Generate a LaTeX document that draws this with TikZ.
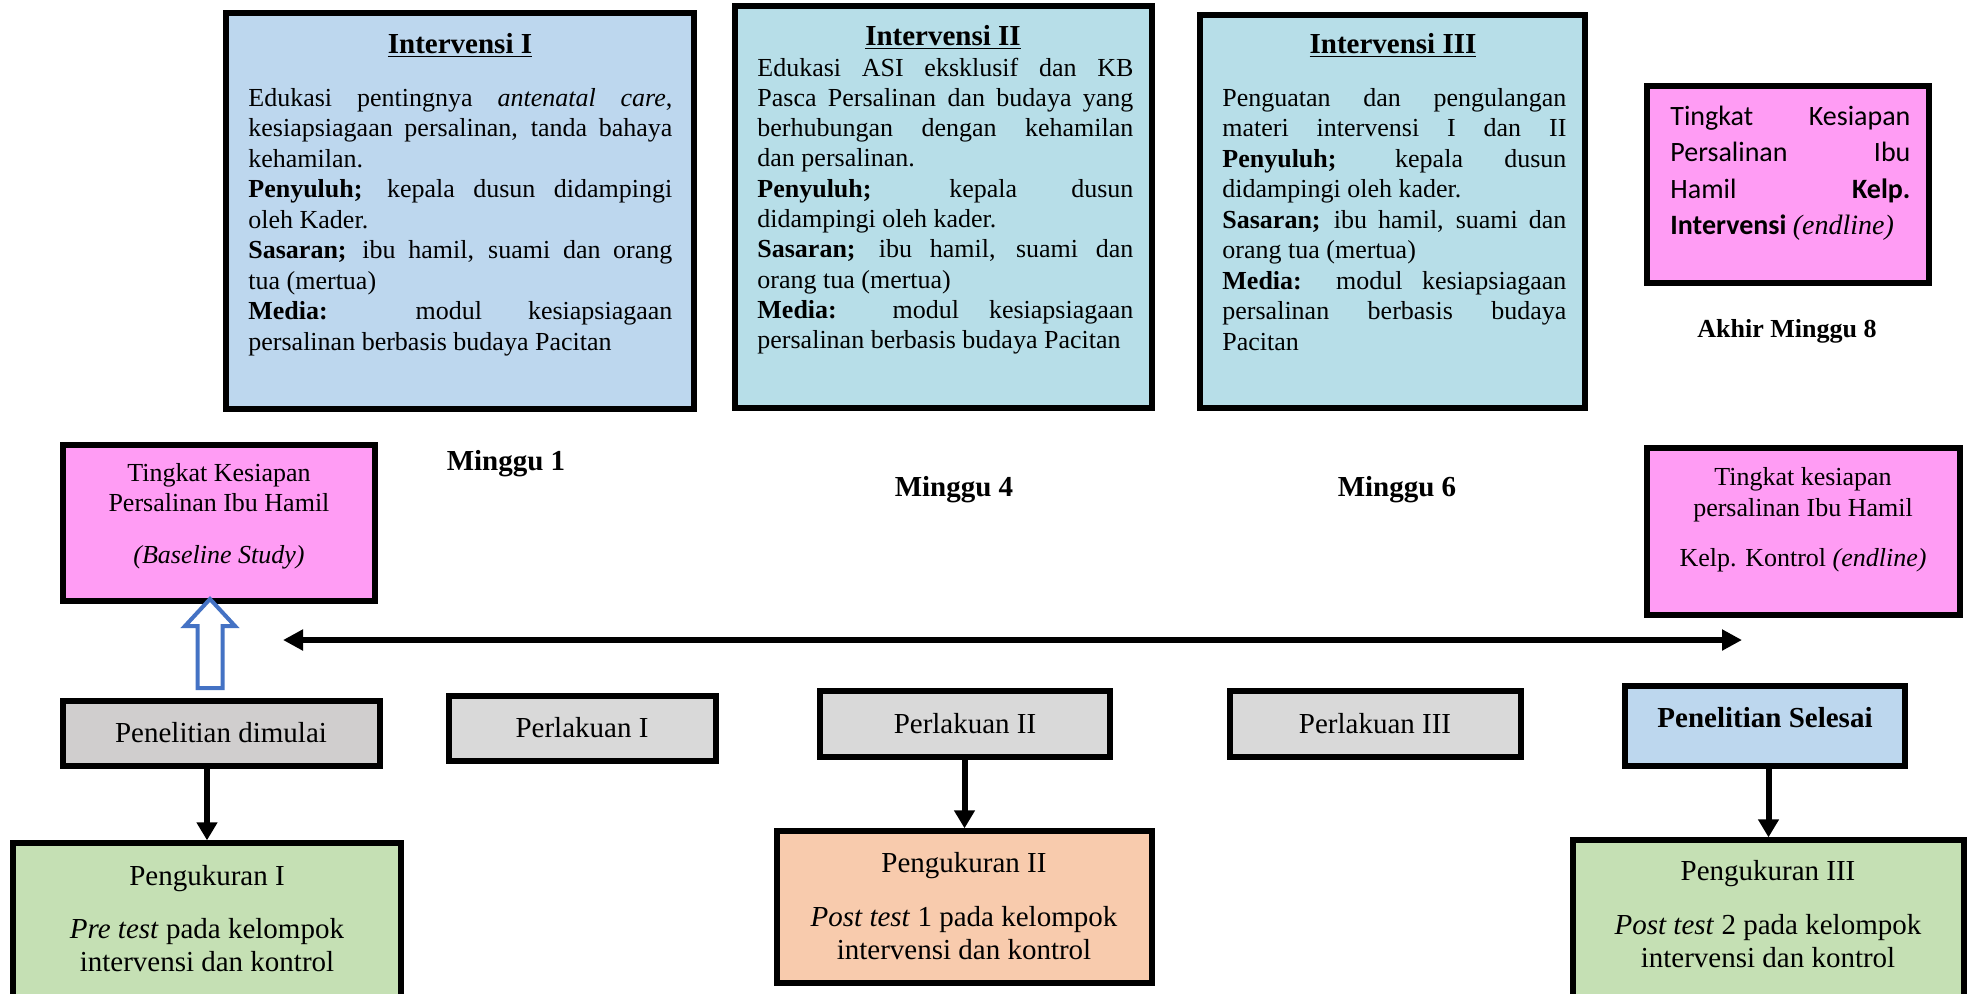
\documentclass[tikz,border=0pt]{standalone}
\usepackage{fontspec}
\setmainfont{Liberation Serif}
\newfontfamily\calibrifont{Carlito}
\usetikzlibrary{arrows.meta,fit}

\definecolor{intblue}{HTML}{BDD7EE}
\definecolor{intaqua}{HTML}{B7DEE8}
\definecolor{pinkbox}{HTML}{FF9CF4}
\definecolor{startgray}{HTML}{D0CECE}
\definecolor{treatgray}{HTML}{D9D9D9}
\definecolor{endblue}{HTML}{BDD7EE}
\definecolor{measgreen}{HTML}{C5E0B4}
\definecolor{measpeach}{HTML}{F8CBAD}
\definecolor{hollowblue}{HTML}{4472C4}

\newcommand\txtbody{\fontsize{13}{15.25}\selectfont}
\newcommand\txttitle{\fontsize{14.5}{17}\selectfont\bfseries}
\newcommand\txtbox{\fontsize{14.5}{17}\selectfont}
\newcommand\justpar{\parindent0pt\parskip0pt\hyphenpenalty10000\exhyphenpenalty10000\tolerance9999\relax}

\tikzset{
  frame/.style={draw=black, line width=2.7pt, inner sep=0pt},
  lbl/.style={inner sep=0pt, anchor=base},
  bodytxt/.style={inner sep=0pt, anchor=base west},
  dnarrow/.style={line width=3pt, -{Triangle[length=9pt,width=10pt]}},
  timeline/.style={line width=3.4pt, {Triangle[length=10pt,width=10pt]}-{Triangle[length=10pt,width=10pt]}},
}

\begin{document}
\begin{tikzpicture}[x=0.5pt,y=-0.5pt]
\clip (0,0) rectangle (1968,993);
\fill[white] (0,0) rectangle (1968,993);

% ---------- intervention boxes ----------
\node[frame, fill=intblue, fit={(226,13) (694,409)}] (int1) {};
\node[lbl] (int1h) at (460,53) {\txttitle\underline{Intervensi I}};
\node[bodytxt] (int1t) at (248,106) {\parbox[t]{212pt}{\txtbody\justpar
Edukasi pentingnya \textit{antenatal care},\linebreak
kesiapsiagaan persalinan, tanda bahaya\linebreak
kehamilan.\par
\textbf{Penyuluh;} kepala dusun didampingi\linebreak
oleh Kader.\par
\textbf{Sasaran;} ibu hamil, suami dan orang\linebreak
tua (mertua)\par
\textbf{Media:} modul kesiapsiagaan\linebreak
persalinan berbasis budaya Pacitan}};

\node[frame, fill=intaqua, fit={(735,6) (1152,408)}] (int2) {};
\node[lbl] (int2h) at (943,45) {\txttitle\underline{Intervensi II}};
\node[bodytxt] (int2t) at (757,76) {\parbox[t]{188pt}{\fontsize{13}{15.15}\selectfont\justpar
Edukasi ASI eksklusif dan KB\linebreak
Pasca Persalinan dan budaya yang\linebreak
berhubungan dengan kehamilan\linebreak
dan persalinan.\par
\textbf{Penyuluh;} kepala dusun\linebreak
didampingi oleh kader.\par
\textbf{Sasaran;} ibu hamil, suami dan\linebreak
orang tua (mertua)\par
\textbf{Media:} modul kesiapsiagaan\linebreak
persalinan berbasis budaya Pacitan}};

\node[frame, fill=intaqua, fit={(1200,15) (1585,408)}] (int3) {};
\node[lbl] (int3h) at (1393,53) {\txttitle\underline{Intervensi III}};
\node[bodytxt] (int3t) at (1222,106) {\parbox[t]{172pt}{\txtbody\justpar
Penguatan dan pengulangan\linebreak
materi intervensi I dan II\linebreak
\textbf{Penyuluh;} kepala dusun\linebreak
didampingi oleh kader.\par
\textbf{Sasaran;} ibu hamil, suami dan\linebreak
orang tua (mertua)\par
\textbf{Media:} modul kesiapsiagaan\linebreak
persalinan berbasis budaya\linebreak
Pacitan}};

% ---------- endline, intervention group ----------
\node[frame, fill=pinkbox, fit={(1647,86) (1929,283)}] (endint) {};
\node[bodytxt] (endintt) at (1670,125) {\parbox[t]{120pt}{\calibrifont\fontsize{14}{18.3}\selectfont\justpar
Tingkat Kesiapan\linebreak
Persalinan Ibu\linebreak
Hamil \textbf{Kelp.}\linebreak
\textbf{Intervensi} {\rmfamily\itshape (endline)}}};
\node[lbl] (wk8) at (1787,337) {\fontsize{13}{15}\selectfont\bfseries Akhir Minggu 8};

% ---------- week labels ----------
\node[lbl] (wk1) at (506,470) {\txttitle Minggu 1};
\node[lbl] (wk4) at (954,496) {\txttitle Minggu 4};
\node[lbl] (wk6) at (1397,496) {\txttitle Minggu 6};

% ---------- baseline and control endline ----------
\node[frame, fill=pinkbox, fit={(63,445) (375,601)}] (base) {};
\node[lbl] (baset) at (219,481) {\parbox[t]{150pt}{\centering\fontsize{13}{15}\selectfont
Tingkat Kesiapan\\
Persalinan Ibu Hamil\\[11pt]
\textit{(Baseline Study)}}};

\node[frame, fill=pinkbox, fit={(1647,448) (1960,615)}] (endkon) {};
\node[lbl] (endkont) at (1803,485) {\parbox[t]{155pt}{\centering\fontsize{13}{15.5}\selectfont
Tingkat kesiapan\\
persalinan Ibu Hamil\\[9.5pt]
Kelp. Kontrol \textit{(endline)}}};

% ---------- time axis ----------
\coordinate (tl) at (283,640);
\coordinate (tr) at (1742,640);
\draw[timeline] (tl) -- (tr);

% hollow block arrow pointing up to the baseline box
\draw[hollowblue, line width=2pt, fill=white, line join=miter]
  (197.5,688) -- (197.5,626) -- (185,626) -- (210,599) -- (235,626)
  -- (222.5,626) -- (222.5,688) -- cycle;

% ---------- stage boxes ----------
\node[frame, fill=startgray, fit={(63,701) (380,766)}] (pd) {};
\node[lbl] (pdt) at (221,742) {\txtbox Penelitian dimulai};

\node[frame, fill=treatgray, fit={(449,696) (716,761)}] (p1) {};
\node[lbl] (p1t) at (582,737) {\txtbox Perlakuan I};

\node[frame, fill=treatgray, fit={(820,691) (1110,757)}] (p2) {};
\node[lbl] (p2t) at (965,733) {\txtbox Perlakuan II};

\node[frame, fill=treatgray, fit={(1230,691) (1521,757)}] (p3) {};
\node[lbl] (p3t) at (1375,733) {\txtbox Perlakuan III};

\node[frame, fill=endblue, fit={(1625,686) (1905,766)}] (fin) {};
\node[lbl] (fint) at (1765,727) {\txtbox\bfseries Penelitian Selesai};

% ---------- measurement boxes ----------
\node[frame, fill=measgreen, fit={(13,843) (401,998)}] (m1) {};
\node[lbl] (m1t) at (207,885) {\parbox[t]{190pt}{\centering\fontsize{14.5}{16.5}\selectfont
Pengukuran I\\[10pt]
\textit{Pre test} pada kelompok\\
intervensi dan kontrol}};

\node[frame, fill=measpeach, fit={(777,831) (1152,983)}] (m2) {};
\node[lbl] (m2t) at (964,872) {\parbox[t]{185pt}{\centering\fontsize{14.5}{16.5}\selectfont
Pengukuran II\\[10.5pt]
\textit{Post test} 1 pada kelompok\\
intervensi dan kontrol}};

\node[frame, fill=measgreen, fit={(1573,840) (1964,998)}] (m3) {};
\node[lbl] (m3t) at (1768,880) {\parbox[t]{195pt}{\centering\fontsize{14.5}{16.5}\selectfont
Pengukuran III\\[10.5pt]
\textit{Post test} 2 pada kelompok\\
intervensi dan kontrol}};

% ---------- measurement arrows ----------
\draw[dnarrow] (pd.south -| m1.north) -- (m1.north);
\draw[dnarrow] (p2.south -| m2.north) -- (m2.north);
\draw[dnarrow] (fin.south -| m3.north) -- (m3.north);
\end{tikzpicture}
\end{document}
